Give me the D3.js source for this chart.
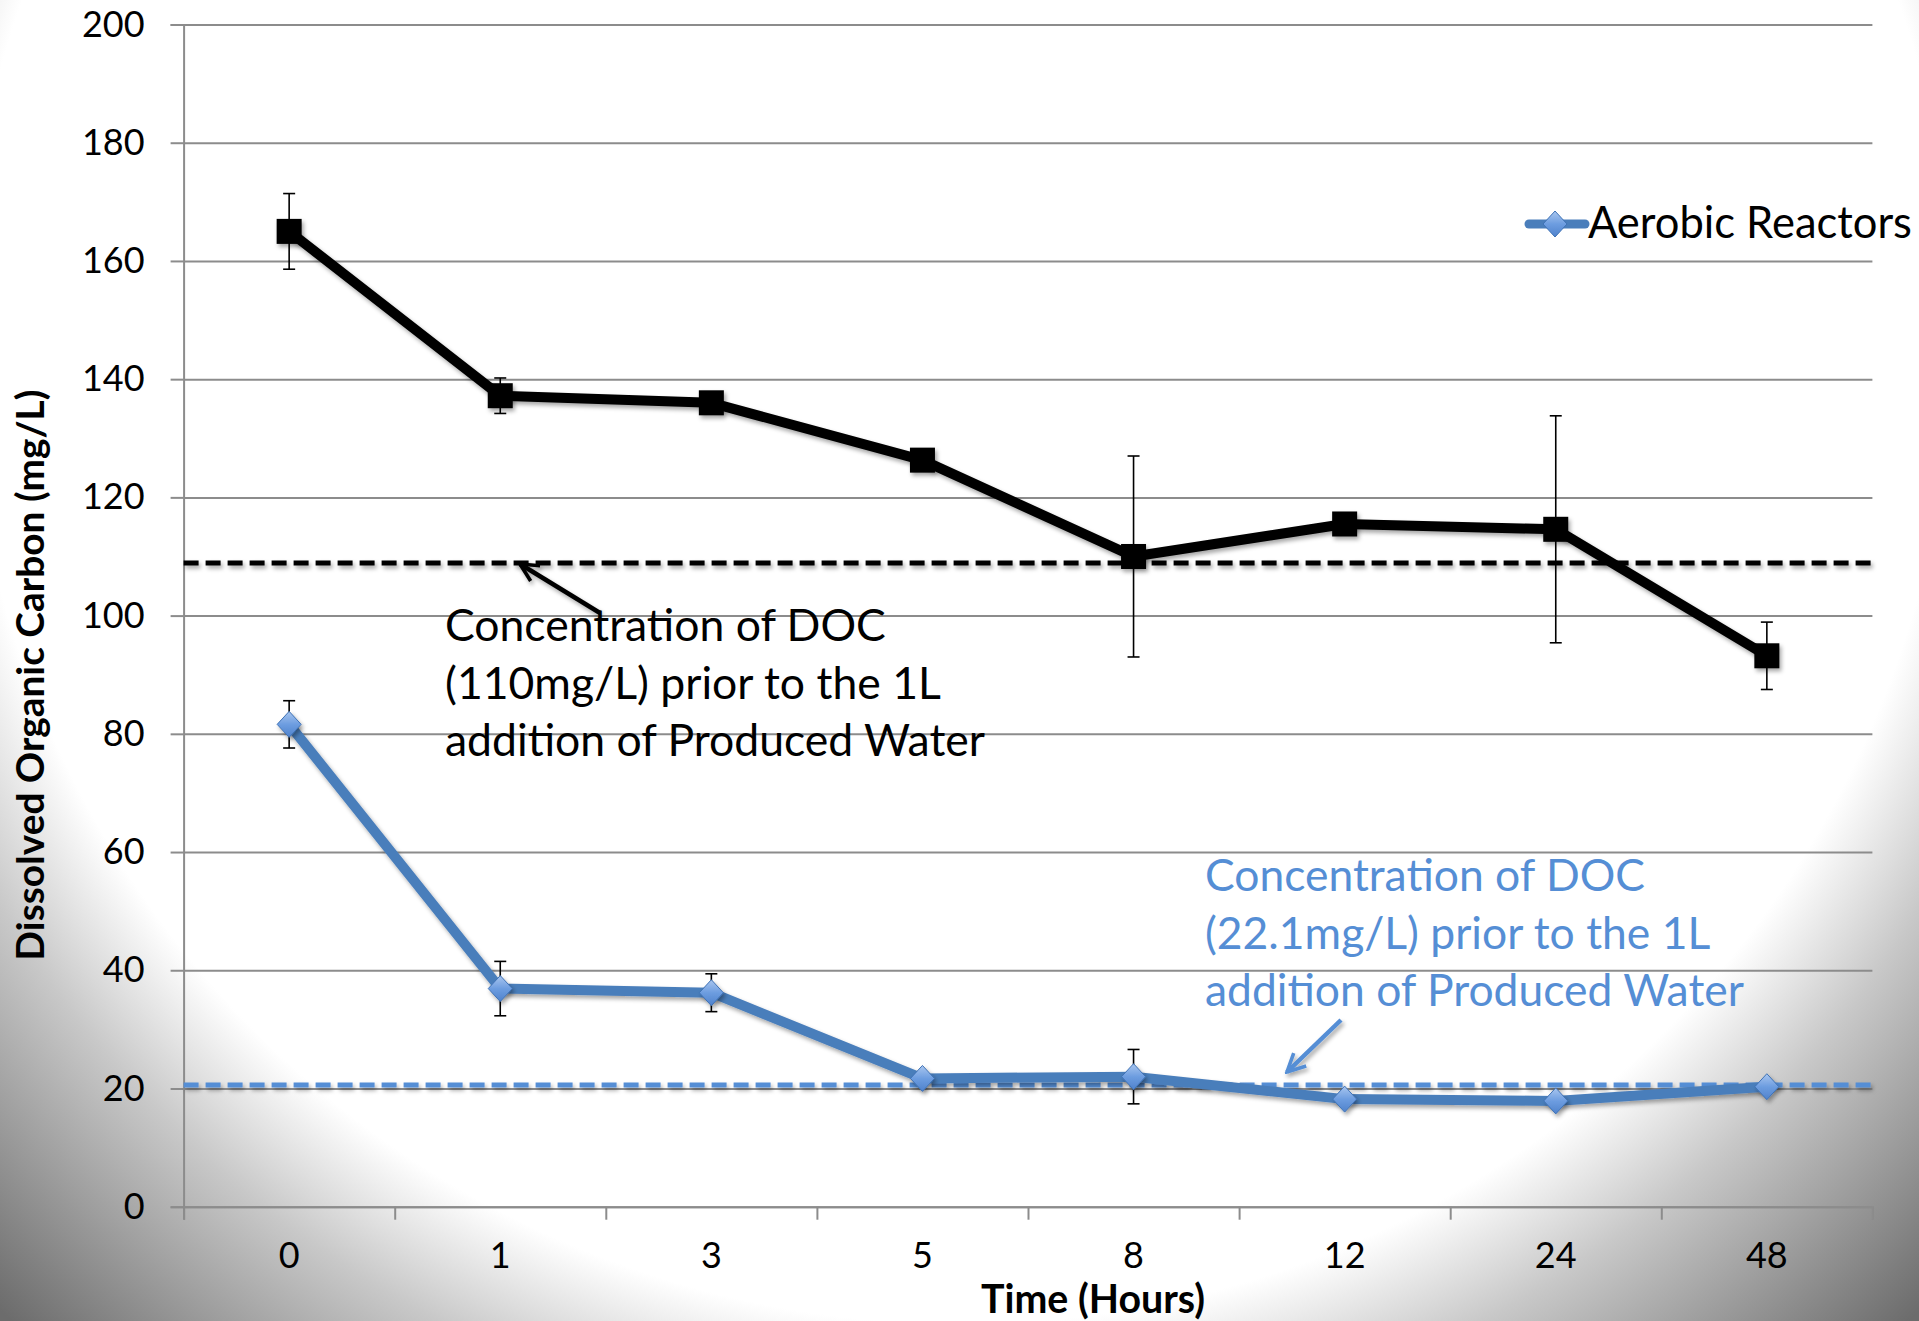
<!DOCTYPE html>
<html>
<head>
<meta charset="utf-8">
<script src="https://cdn.jsdelivr.net/npm/d3@7"></script>
<style>
  html, body { margin: 0; padding: 0; background: #fff; overflow: hidden; }
  svg { display: block; font-family: Lato, "Open Sans", sans-serif; }
</style>
</head>
<body>
<svg id="chart" width="1919" height="1321"></svg>
<script>
// data
var categories = ["0", "1", "3", "5", "8", "12", "24", "48"];
var blackMeans = [165.0, 137.2, 136.0, 126.3, 110.0, 115.5, 114.6, 93.2];
var blackErr   = [6.4, 3.0, 0.6, 1.2, 17.0, 0, 19.2, 5.7];
var aerobicMeans = [81.6, 36.9, 36.2, 21.7, 22.0, 18.2, 17.9, 20.3];
var aerobicErr   = [4.0, 4.6, 3.2, 0, 4.6, 0, 0, 0];
var yTicks = [0, 20, 40, 60, 80, 100, 120, 140, 160, 180, 200];
var blackBaseline = 108.9;
var blueBaseline = 20.6;
var blackNote = ["Concentration of DOC", "(110mg/L) prior to the 1L", "addition of Produced Water"];
var blueNote  = ["Concentration of DOC", "(22.1mg/L) prior to the 1L", "addition of Produced Water"];
var legendLabel = "Aerobic Reactors";

var W = 1919, H = 1321;
var margin = {top: 24.5, right: W - 1872.4, bottom: H - 1206.7, left: 183.6};
var width = W - margin.left - margin.right;
var height = H - margin.top - margin.bottom;

var svg = d3.select("#chart");
var defs = svg.append("defs");

// vignette background, white on top, grey toward the bottom corners
var bg = defs.append("radialGradient").attr("id", "bgGrad")
  .attr("gradientUnits", "userSpaceOnUse")
  .attr("cx", 960).attr("cy", 330).attr("r", 1400);
bg.append("stop").attr("offset", "0.71").attr("stop-color", "#ffffff");
bg.append("stop").attr("offset", "0.80").attr("stop-color", "#c8c8c8");
bg.append("stop").attr("offset", "0.98").attr("stop-color", "#6c6c6c");

// userSpaceOnUse so flat horizontal lines keep their shadow
var shadow = defs.append("filter").attr("id", "shadow")
  .attr("filterUnits", "userSpaceOnUse")
  .attr("x", -300).attr("y", -300).attr("width", 2600).attr("height", 2000);
shadow.append("feDropShadow").attr("dx", 2).attr("dy", 3)
  .attr("stdDeviation", 2).attr("flood-color", "#000").attr("flood-opacity", 0.35);

var diamondGrad = defs.append("linearGradient").attr("id", "diamondGrad")
  .attr("x1", 0).attr("y1", 0).attr("x2", 0).attr("y2", 1);
diamondGrad.append("stop").attr("offset", 0).attr("stop-color", "#a9c6ef");
diamondGrad.append("stop").attr("offset", 0.5).attr("stop-color", "#6d9de0");
diamondGrad.append("stop").attr("offset", 1).attr("stop-color", "#4f82cc");

defs.append("marker").attr("id", "arrowBlack")
  .attr("viewBox", "0 0 10 10").attr("refX", 9).attr("refY", 5)
  .attr("markerWidth", 5).attr("markerHeight", 5).attr("orient", "auto")
  .append("path").attr("d", "M1,1 L9,5 L1,9").attr("fill", "none")
  .attr("stroke", "#000").attr("stroke-width", 1.6);
defs.append("marker").attr("id", "arrowBlue")
  .attr("viewBox", "0 0 10 10").attr("refX", 9).attr("refY", 5)
  .attr("markerWidth", 5).attr("markerHeight", 5).attr("orient", "auto")
  .append("path").attr("d", "M1,1 L9,5 L1,9").attr("fill", "none")
  .attr("stroke", "#558ed5").attr("stroke-width", 1.6);

svg.append("rect").attr("width", W).attr("height", H).attr("fill", "url(#bgGrad)");

var g = svg.append("g").attr("transform", "translate(" + margin.left + "," + margin.top + ")");

var x = d3.scaleBand().domain(categories).range([0, width]);
var xEdge = d3.scaleLinear().domain([0, categories.length]).range([0, width]);
var y = d3.scaleLinear().domain([0, 200]).range([height, 0]);
var cx = function(d, i) { return x(categories[i]) + x.bandwidth() / 2; };

// gridlines
g.append("g").attr("class", "grid")
  .call(d3.axisLeft(y).tickValues(yTicks).tickSize(-width).tickFormat(""))
  .call(function(s) {
    s.select(".domain").remove();
    s.selectAll("line").attr("stroke", "#8c8c8c").attr("stroke-width", 2);
  });

// y axis
var yAxis = g.append("g")
  .call(d3.axisLeft(y).tickValues(yTicks).tickSize(13).tickPadding(26));
yAxis.select(".domain").attr("stroke", "#8c8c8c").attr("stroke-width", 2);
yAxis.selectAll("line").attr("stroke", "#8c8c8c").attr("stroke-width", 2);
yAxis.selectAll("text").attr("font-size", 36).attr("fill", "#000")
  .attr("font-family", "Lato, sans-serif");

// x axis (ticks on category edges)
var xAxis = g.append("g").attr("transform", "translate(0," + height + ")")
  .call(d3.axisBottom(xEdge).tickValues(d3.range(categories.length + 1)).tickSize(13).tickFormat(""));
xAxis.select(".domain").attr("stroke", "#8c8c8c").attr("stroke-width", 2);
xAxis.selectAll("line").attr("stroke", "#8c8c8c").attr("stroke-width", 2);

g.append("g").selectAll("text").data(categories).enter().append("text")
  .attr("x", function(d) { return x(d) + x.bandwidth() / 2; })
  .attr("y", height + 61.3)
  .attr("text-anchor", "middle")
  .attr("font-size", 36)
  .text(function(d) { return d; });

// baseline reference lines
g.append("line").attr("x1", 0).attr("x2", width)
  .attr("y1", y(blackBaseline)).attr("y2", y(blackBaseline))
  .attr("stroke", "#000").attr("stroke-width", 5).attr("stroke-dasharray", "15,7")
  .attr("filter", "url(#shadow)");
g.append("line").attr("x1", 0).attr("x2", width)
  .attr("y1", y(blueBaseline)).attr("y2", y(blueBaseline))
  .attr("stroke", "#558ed5").attr("stroke-width", 5).attr("stroke-dasharray", "15,7")
  .attr("filter", "url(#shadow)");

var line = d3.line().x(cx).y(function(d) { return y(d); });

function drawErrors(means, errs) {
  var eg = g.append("g").attr("stroke", "#000").attr("stroke-width", 1.6);
  means.forEach(function(m, i) {
    if (!errs[i]) return;
    var xc = cx(m, i);
    eg.append("line").attr("x1", xc).attr("x2", xc).attr("y1", y(m + errs[i])).attr("y2", y(m - errs[i]));
    eg.append("line").attr("x1", xc - 6).attr("x2", xc + 6).attr("y1", y(m + errs[i])).attr("y2", y(m + errs[i]));
    eg.append("line").attr("x1", xc - 6).attr("x2", xc + 6).attr("y1", y(m - errs[i])).attr("y2", y(m - errs[i]));
  });
}

// black series
drawErrors(blackMeans, blackErr);
g.append("path").datum(blackMeans).attr("d", line)
  .attr("fill", "none").attr("stroke", "#000").attr("stroke-width", 10)
  .attr("stroke-linejoin", "round").attr("filter", "url(#shadow)");
g.append("g").selectAll("rect").data(blackMeans).enter().append("rect")
  .attr("x", function(d, i) { return cx(d, i) - 12.5; })
  .attr("y", function(d) { return y(d) - 12.5; })
  .attr("width", 25).attr("height", 25)
  .attr("fill", "#000").attr("filter", "url(#shadow)");

// blue series
drawErrors(aerobicMeans, aerobicErr);
g.append("path").datum(aerobicMeans).attr("d", line)
  .attr("fill", "none").attr("stroke", "#4a7ebb").attr("stroke-width", 10)
  .attr("stroke-linejoin", "round").attr("filter", "url(#shadow)");
var diamond = "M0,-13 L12,0 L0,13 L-12,0 Z";
g.append("g").selectAll("path").data(aerobicMeans).enter().append("path")
  .attr("d", diamond)
  .attr("transform", function(d, i) { return "translate(" + cx(d, i) + "," + y(d) + ")"; })
  .attr("fill", "url(#diamondGrad)").attr("stroke", "#3f72b5").attr("stroke-width", 1)
  .attr("filter", "url(#shadow)");

// fit a block of text to a target width
function fitSize(sel, target, start) {
  sel.attr("font-size", start);
  var w = d3.max(sel.nodes(), function(n) { return n.getComputedTextLength(); });
  sel.attr("font-size", start * target / w);
}

// annotations
var noteBlack = svg.append("g").selectAll("text").data(blackNote).enter().append("text")
  .attr("x", 445).attr("y", function(d, i) { return 641 + i * 57.5; })
  .attr("fill", "#000").text(function(d) { return d; });
fitSize(noteBlack, 540, 44);
svg.append("line").attr("x1", 600).attr("y1", 613).attr("x2", 520).attr("y2", 564)
  .attr("stroke", "#000").attr("stroke-width", 4.5).attr("marker-end", "url(#arrowBlack)")
  .attr("filter", "url(#shadow)");

var noteBlue = svg.append("g").selectAll("text").data(blueNote).enter().append("text")
  .attr("x", 1205).attr("y", function(d, i) { return 891 + i * 57.5; })
  .attr("fill", "#558ed5").text(function(d) { return d; });
fitSize(noteBlue, 539, 44);
svg.append("line").attr("x1", 1341).attr("y1", 1020).attr("x2", 1287).attr("y2", 1072)
  .attr("stroke", "#558ed5").attr("stroke-width", 4.5).attr("marker-end", "url(#arrowBlue)")
  .attr("filter", "url(#shadow)");

// legend
var lg = svg.append("g");
lg.append("line").attr("x1", 1529).attr("x2", 1585).attr("y1", 224).attr("y2", 224)
  .attr("stroke", "#4a7ebb").attr("stroke-width", 9).attr("stroke-linecap", "round");
lg.append("path").attr("d", diamond).attr("transform", "translate(1555,224)")
  .attr("fill", "url(#diamondGrad)").attr("stroke", "#3f72b5").attr("stroke-width", 1);
var legText = lg.append("text").attr("x", 1588).attr("y", 238).attr("fill", "#000").text(legendLabel);
fitSize(legText, 324, 40);

// axis titles
var xTitle = svg.append("text").attr("x", 1093).attr("y", 1313)
  .attr("text-anchor", "middle").attr("font-weight", "bold").text("Time (Hours)");
fitSize(xTitle, 224, 34);
var yTitle = svg.append("text")
  .attr("transform", "translate(44,675) rotate(-90)")
  .attr("text-anchor", "middle").attr("font-weight", "bold").text("Dissolved Organic Carbon (mg/L)");
fitSize(yTitle, 571, 32);
</script>
</body>
</html>
